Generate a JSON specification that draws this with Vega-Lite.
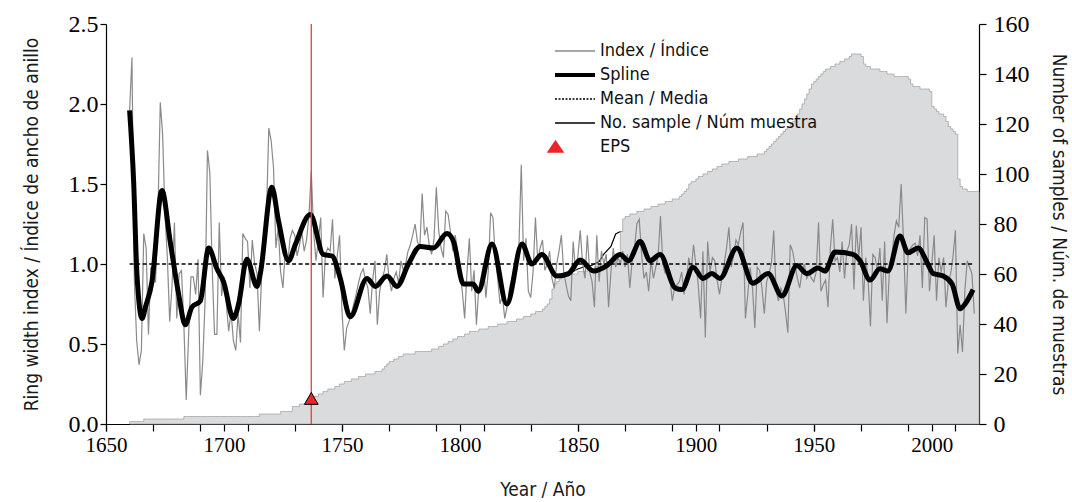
{
"$schema":"https://vega.github.io/schema/vega-lite/v6.json",
"width":873,"height":400,
"autosize":{"type":"none"},
"padding":{"left":106,"top":24,"right":93,"bottom":78},
"background":"white",
"config":{
 "view":{"stroke":null},
 "axis":{"domainColor":"#000","tickColor":"#000","labelColor":"#000","titleColor":"#1a1a1a","labelFontSize":24,"titleFontSize":19,"titleFontWeight":"normal","tickSize":6,"grid":false,"domainWidth":1.2,"tickWidth":1.2,"labelOverlap":false,"labelFlush":false,"labelBound":false}
},
"datasets":{
"annual":[
{"year":1660,"index":1.96,"n":1},{"year":1661,"index":2.29,"n":1},{"year":1662,"index":0.90,"n":1},{"year":1663,"index":0.52,"n":1},{"year":1664,"index":0.37,"n":1},{"year":1665,"index":0.46,"n":1},{"year":1666,"index":1.19,"n":2},{"year":1667,"index":1.10,"n":2},{"year":1668,"index":0.56,"n":2},{"year":1669,"index":0.98,"n":2},
{"year":1670,"index":0.89,"n":2},{"year":1671,"index":0.89,"n":2},{"year":1672,"index":1.30,"n":2},{"year":1673,"index":2.01,"n":2},{"year":1674,"index":1.81,"n":2},{"year":1675,"index":1.31,"n":2},{"year":1676,"index":1.04,"n":2},{"year":1677,"index":0.64,"n":2},{"year":1678,"index":0.87,"n":2},{"year":1679,"index":1.26,"n":2},
{"year":1680,"index":0.66,"n":2},{"year":1681,"index":0.94,"n":2},{"year":1682,"index":0.96,"n":2},{"year":1683,"index":0.62,"n":3},{"year":1684,"index":0.15,"n":3},{"year":1685,"index":0.55,"n":3},{"year":1686,"index":0.92,"n":3},{"year":1687,"index":0.92,"n":3},{"year":1688,"index":0.81,"n":3},{"year":1689,"index":1.03,"n":3},
{"year":1690,"index":0.18,"n":3},{"year":1691,"index":0.39,"n":3},{"year":1692,"index":0.77,"n":3},{"year":1693,"index":1.71,"n":3},{"year":1694,"index":1.57,"n":3},{"year":1695,"index":0.98,"n":3},{"year":1696,"index":0.56,"n":3},{"year":1697,"index":0.56,"n":3},{"year":1698,"index":1.26,"n":3},{"year":1699,"index":0.80,"n":3},
{"year":1700,"index":0.92,"n":3},{"year":1701,"index":0.75,"n":3},{"year":1702,"index":0.58,"n":3},{"year":1703,"index":0.70,"n":3},{"year":1704,"index":0.52,"n":3},{"year":1705,"index":0.46,"n":3},{"year":1706,"index":0.69,"n":3},{"year":1707,"index":0.51,"n":3},{"year":1708,"index":1.19,"n":3},{"year":1709,"index":1.16,"n":3},
{"year":1710,"index":1.14,"n":3},{"year":1711,"index":0.85,"n":3},{"year":1712,"index":1.15,"n":3},{"year":1713,"index":1.00,"n":3},{"year":1714,"index":0.94,"n":3},{"year":1715,"index":0.58,"n":4},{"year":1716,"index":0.94,"n":4},{"year":1717,"index":1.14,"n":4},{"year":1718,"index":1.30,"n":4},{"year":1719,"index":1.85,"n":4},
{"year":1720,"index":1.77,"n":4},{"year":1721,"index":1.60,"n":4},{"year":1722,"index":1.10,"n":4},{"year":1723,"index":1.23,"n":4},{"year":1724,"index":0.95,"n":5},{"year":1725,"index":0.85,"n":5},{"year":1726,"index":1.10,"n":5},{"year":1727,"index":1.00,"n":5},{"year":1728,"index":1.16,"n":5},{"year":1729,"index":1.21,"n":7},
{"year":1730,"index":1.18,"n":7},{"year":1731,"index":1.05,"n":7},{"year":1732,"index":1.12,"n":8},{"year":1733,"index":1.20,"n":8},{"year":1734,"index":1.08,"n":8},{"year":1735,"index":1.15,"n":9},{"year":1736,"index":1.30,"n":9},{"year":1737,"index":1.58,"n":10},{"year":1738,"index":1.20,"n":11},{"year":1739,"index":1.02,"n":11},
{"year":1740,"index":1.15,"n":12},{"year":1741,"index":1.29,"n":12},{"year":1742,"index":0.79,"n":13},{"year":1743,"index":1.06,"n":13},{"year":1744,"index":1.10,"n":14},{"year":1745,"index":1.08,"n":14},{"year":1746,"index":1.28,"n":14},{"year":1747,"index":0.91,"n":15},{"year":1748,"index":1.05,"n":15},{"year":1749,"index":1.18,"n":16},
{"year":1750,"index":0.71,"n":16},{"year":1751,"index":0.46,"n":17},{"year":1752,"index":0.60,"n":17},{"year":1753,"index":0.64,"n":17},{"year":1754,"index":0.69,"n":18},{"year":1755,"index":0.75,"n":18},{"year":1756,"index":0.81,"n":18},{"year":1757,"index":0.88,"n":19},{"year":1758,"index":0.94,"n":19},{"year":1759,"index":0.97,"n":19},
{"year":1760,"index":0.90,"n":20},{"year":1761,"index":0.85,"n":20},{"year":1762,"index":0.69,"n":20},{"year":1763,"index":0.90,"n":20},{"year":1764,"index":1.02,"n":21},{"year":1765,"index":0.62,"n":21},{"year":1766,"index":0.83,"n":21},{"year":1767,"index":0.90,"n":22},{"year":1768,"index":0.96,"n":23},{"year":1769,"index":1.06,"n":24},
{"year":1770,"index":0.90,"n":25},{"year":1771,"index":0.83,"n":25},{"year":1772,"index":0.91,"n":26},{"year":1773,"index":0.95,"n":26},{"year":1774,"index":0.88,"n":27},{"year":1775,"index":1.02,"n":27},{"year":1776,"index":0.96,"n":28},{"year":1777,"index":1.00,"n":28},{"year":1778,"index":1.08,"n":28},{"year":1779,"index":1.12,"n":28},
{"year":1780,"index":1.18,"n":28},{"year":1781,"index":1.25,"n":29},{"year":1782,"index":1.14,"n":29},{"year":1783,"index":1.10,"n":29},{"year":1784,"index":1.44,"n":29},{"year":1785,"index":1.18,"n":29},{"year":1786,"index":1.23,"n":29},{"year":1787,"index":1.12,"n":29},{"year":1788,"index":1.06,"n":30},{"year":1789,"index":1.15,"n":30},
{"year":1790,"index":1.48,"n":30},{"year":1791,"index":1.21,"n":31},{"year":1792,"index":1.10,"n":31},{"year":1793,"index":1.04,"n":32},{"year":1794,"index":1.33,"n":32},{"year":1795,"index":1.31,"n":33},{"year":1796,"index":1.20,"n":33},{"year":1797,"index":1.08,"n":34},{"year":1798,"index":1.18,"n":34},{"year":1799,"index":1.08,"n":35},
{"year":1800,"index":0.95,"n":35},{"year":1801,"index":0.83,"n":35},{"year":1802,"index":0.66,"n":36},{"year":1803,"index":0.95,"n":36},{"year":1804,"index":1.16,"n":37},{"year":1805,"index":0.83,"n":37},{"year":1806,"index":0.96,"n":37},{"year":1807,"index":0.62,"n":37},{"year":1808,"index":0.85,"n":38},{"year":1809,"index":0.92,"n":38},
{"year":1810,"index":1.00,"n":38},{"year":1811,"index":0.79,"n":38},{"year":1812,"index":0.95,"n":39},{"year":1813,"index":1.32,"n":39},{"year":1814,"index":1.29,"n":39},{"year":1815,"index":1.05,"n":39},{"year":1816,"index":0.91,"n":40},{"year":1817,"index":0.75,"n":40},{"year":1818,"index":0.80,"n":40},{"year":1819,"index":0.66,"n":40},
{"year":1820,"index":0.73,"n":41},{"year":1821,"index":0.85,"n":41},{"year":1822,"index":0.91,"n":41},{"year":1823,"index":0.95,"n":41},{"year":1824,"index":0.98,"n":42},{"year":1825,"index":1.10,"n":42},{"year":1826,"index":1.62,"n":42},{"year":1827,"index":1.02,"n":43},{"year":1828,"index":1.16,"n":43},{"year":1829,"index":0.83,"n":43},
{"year":1830,"index":0.79,"n":44},{"year":1831,"index":0.95,"n":44},{"year":1832,"index":1.29,"n":45},{"year":1833,"index":1.02,"n":45},{"year":1834,"index":1.10,"n":45},{"year":1835,"index":1.15,"n":46},{"year":1836,"index":0.96,"n":47},{"year":1837,"index":1.00,"n":48},{"year":1838,"index":1.08,"n":50},{"year":1839,"index":0.91,"n":54},
{"year":1840,"index":0.85,"n":56},{"year":1841,"index":1.00,"n":57},{"year":1842,"index":1.08,"n":58},{"year":1843,"index":1.18,"n":59},{"year":1844,"index":0.95,"n":59},{"year":1845,"index":0.87,"n":59},{"year":1846,"index":0.80,"n":60},{"year":1847,"index":0.77,"n":60},{"year":1848,"index":1.14,"n":60},{"year":1849,"index":0.96,"n":60},
{"year":1850,"index":1.05,"n":61},{"year":1851,"index":1.21,"n":61},{"year":1852,"index":1.00,"n":61},{"year":1853,"index":0.91,"n":61},{"year":1854,"index":1.18,"n":62},{"year":1855,"index":0.95,"n":62},{"year":1856,"index":0.89,"n":62},{"year":1857,"index":0.73,"n":63},{"year":1858,"index":1.18,"n":63},{"year":1859,"index":0.89,"n":64},
{"year":1860,"index":1.08,"n":64},{"year":1861,"index":1.00,"n":64},{"year":1862,"index":1.06,"n":65},{"year":1863,"index":0.73,"n":65},{"year":1864,"index":0.95,"n":65},{"year":1865,"index":1.10,"n":66},{"year":1866,"index":0.98,"n":66},{"year":1867,"index":1.04,"n":67},{"year":1868,"index":1.00,"n":77},{"year":1869,"index":1.08,"n":82},
{"year":1870,"index":0.98,"n":83},{"year":1871,"index":1.06,"n":83},{"year":1872,"index":0.85,"n":84},{"year":1873,"index":1.02,"n":84},{"year":1874,"index":1.10,"n":84},{"year":1875,"index":1.25,"n":85},{"year":1876,"index":1.28,"n":85},{"year":1877,"index":1.06,"n":85},{"year":1878,"index":0.91,"n":86},{"year":1879,"index":0.95,"n":86},
{"year":1880,"index":0.83,"n":86},{"year":1881,"index":1.02,"n":87},{"year":1882,"index":0.91,"n":87},{"year":1883,"index":0.98,"n":87},{"year":1884,"index":1.05,"n":88},{"year":1885,"index":1.30,"n":88},{"year":1886,"index":1.00,"n":88},{"year":1887,"index":0.94,"n":89},{"year":1888,"index":1.00,"n":89},{"year":1889,"index":0.91,"n":89},
{"year":1890,"index":0.77,"n":90},{"year":1891,"index":0.85,"n":90},{"year":1892,"index":0.87,"n":90},{"year":1893,"index":0.89,"n":91},{"year":1894,"index":0.95,"n":92},{"year":1895,"index":0.81,"n":93},{"year":1896,"index":0.90,"n":94},{"year":1897,"index":1.04,"n":96},{"year":1898,"index":0.95,"n":97},{"year":1899,"index":1.12,"n":97},
{"year":1900,"index":1.00,"n":98},{"year":1901,"index":0.87,"n":99},{"year":1902,"index":0.66,"n":99},{"year":1903,"index":1.08,"n":100},{"year":1904,"index":0.54,"n":100},{"year":1905,"index":1.14,"n":101},{"year":1906,"index":0.95,"n":101},{"year":1907,"index":1.04,"n":102},{"year":1908,"index":1.02,"n":102},{"year":1909,"index":0.90,"n":103},
{"year":1910,"index":0.81,"n":103},{"year":1911,"index":0.91,"n":104},{"year":1912,"index":1.00,"n":104},{"year":1913,"index":1.10,"n":104},{"year":1914,"index":1.23,"n":105},{"year":1915,"index":0.98,"n":105},{"year":1916,"index":1.05,"n":105},{"year":1917,"index":1.15,"n":105},{"year":1918,"index":1.12,"n":106},{"year":1919,"index":1.20,"n":106},
{"year":1920,"index":1.26,"n":106},{"year":1921,"index":0.66,"n":106},{"year":1922,"index":0.81,"n":107},{"year":1923,"index":0.98,"n":107},{"year":1924,"index":0.85,"n":107},{"year":1925,"index":0.60,"n":107},{"year":1926,"index":0.98,"n":108},{"year":1927,"index":0.96,"n":108},{"year":1928,"index":0.85,"n":108},{"year":1929,"index":0.69,"n":109},
{"year":1930,"index":0.89,"n":110},{"year":1931,"index":0.94,"n":111},{"year":1932,"index":1.00,"n":112},{"year":1933,"index":1.21,"n":113},{"year":1934,"index":0.83,"n":114},{"year":1935,"index":0.77,"n":115},{"year":1936,"index":0.85,"n":116},{"year":1937,"index":0.81,"n":117},{"year":1938,"index":0.70,"n":118},{"year":1939,"index":0.57,"n":119},
{"year":1940,"index":1.12,"n":120},{"year":1941,"index":1.08,"n":121},{"year":1942,"index":1.00,"n":122},{"year":1943,"index":0.91,"n":124},{"year":1944,"index":0.85,"n":126},{"year":1945,"index":0.95,"n":128},{"year":1946,"index":1.00,"n":130},{"year":1947,"index":0.91,"n":132},{"year":1948,"index":0.94,"n":134},{"year":1949,"index":0.91,"n":136},
{"year":1950,"index":0.89,"n":137},{"year":1951,"index":0.95,"n":138},{"year":1952,"index":1.26,"n":139},{"year":1953,"index":0.83,"n":140},{"year":1954,"index":0.87,"n":141},{"year":1955,"index":0.90,"n":142},{"year":1956,"index":0.73,"n":142},{"year":1957,"index":1.10,"n":143},{"year":1958,"index":1.28,"n":143},{"year":1959,"index":1.02,"n":144},
{"year":1960,"index":1.04,"n":144},{"year":1961,"index":0.95,"n":145},{"year":1962,"index":1.14,"n":145},{"year":1963,"index":0.91,"n":146},{"year":1964,"index":1.08,"n":146},{"year":1965,"index":1.12,"n":147},{"year":1966,"index":1.25,"n":148},{"year":1967,"index":0.84,"n":148},{"year":1968,"index":1.24,"n":148},{"year":1969,"index":1.04,"n":148},
{"year":1970,"index":1.23,"n":147},{"year":1971,"index":0.77,"n":144},{"year":1972,"index":1.04,"n":143},{"year":1973,"index":0.90,"n":143},{"year":1974,"index":0.61,"n":142},{"year":1975,"index":1.06,"n":142},{"year":1976,"index":1.04,"n":142},{"year":1977,"index":0.95,"n":142},{"year":1978,"index":1.10,"n":141},{"year":1979,"index":0.77,"n":141},
{"year":1980,"index":1.14,"n":141},{"year":1981,"index":0.63,"n":140},{"year":1982,"index":0.95,"n":140},{"year":1983,"index":1.04,"n":140},{"year":1984,"index":1.18,"n":139},{"year":1985,"index":1.27,"n":139},{"year":1986,"index":1.23,"n":139},{"year":1987,"index":1.50,"n":139},{"year":1988,"index":1.15,"n":139},{"year":1989,"index":0.69,"n":139},
{"year":1990,"index":1.08,"n":138},{"year":1991,"index":1.10,"n":136},{"year":1992,"index":1.12,"n":135},{"year":1993,"index":1.13,"n":135},{"year":1994,"index":1.05,"n":135},{"year":1995,"index":1.18,"n":134},{"year":1996,"index":0.85,"n":134},{"year":1997,"index":1.29,"n":134},{"year":1998,"index":1.28,"n":134},{"year":1999,"index":0.83,"n":133},
{"year":2000,"index":1.00,"n":127},{"year":2001,"index":1.18,"n":126},{"year":2002,"index":0.77,"n":125},{"year":2003,"index":1.04,"n":124},{"year":2004,"index":0.95,"n":124},{"year":2005,"index":1.04,"n":123},{"year":2006,"index":0.73,"n":121},{"year":2007,"index":0.89,"n":119},{"year":2008,"index":0.94,"n":118},{"year":2009,"index":1.05,"n":117},
{"year":2010,"index":1.21,"n":116},{"year":2011,"index":0.44,"n":98},{"year":2012,"index":0.62,"n":95},{"year":2013,"index":0.45,"n":94},{"year":2014,"index":0.83,"n":94},{"year":2015,"index":1.02,"n":93},{"year":2016,"index":0.98,"n":93},{"year":2017,"index":0.94,"n":93},{"year":2018,"index":0.69,"n":93},{"year":2019,"n":93},{"year":2020,"n":93}
],
"spline":[
{"year":1660,"s":1.96},{"year":1661.7,"s":1.52},{"year":1663.1,"s":0.94},{"year":1665.3,"s":0.66},{"year":1666.7,"s":0.73},{"year":1669.5,"s":0.89},{"year":1673.7,"s":1.46},{"year":1677.2,"s":1.14},{"year":1680.8,"s":0.81},{"year":1683.6,"s":0.62},
{"year":1686.4,"s":0.73},{"year":1690,"s":0.77},{"year":1693.5,"s":1.10},{"year":1697,"s":0.97},{"year":1699.8,"s":0.89},{"year":1704,"s":0.66},{"year":1706.2,"s":0.75},{"year":1709.7,"s":1.03},{"year":1714,"s":0.86},{"year":1715.4,"s":0.94},
{"year":1720.3,"s":1.48},{"year":1723.1,"s":1.27},{"year":1727.4,"s":1.02},{"year":1730.2,"s":1.12},{"year":1736.6,"s":1.31},{"year":1742.1,"s":1.06},{"year":1745.8,"s":1.05},{"year":1749.3,"s":0.91},{"year":1753.5,"s":0.67},{"year":1760.6,"s":0.91},
{"year":1764.1,"s":0.86},{"year":1769.1,"s":0.925},{"year":1773.3,"s":0.86},{"year":1778.2,"s":1.0},{"year":1783.2,"s":1.11},{"year":1788.8,"s":1.10},{"year":1794.5,"s":1.19},{"year":1797.3,"s":1.14},{"year":1801.5,"s":0.875},{"year":1805.6,"s":0.875},
{"year":1807.8,"s":0.83},{"year":1813.6,"s":1.125},{"year":1819.9,"s":0.75},{"year":1826.3,"s":1.125},{"year":1830.5,"s":1.0},{"year":1834.7,"s":1.06},{"year":1841.1,"s":0.925},{"year":1846,"s":0.94},{"year":1851,"s":1.025},{"year":1856.6,"s":0.956},
{"year":1862.3,"s":0.99},{"year":1867.9,"s":1.06},{"year":1871.4,"s":1.02},{"year":1876.4,"s":1.14},{"year":1880.6,"s":1.02},{"year":1884.8,"s":1.06},{"year":1891.2,"s":0.85},{"year":1894.1,"s":0.84},{"year":1898.8,"s":0.98},{"year":1903,"s":0.91},
{"year":1906.8,"s":0.94},{"year":1910.2,"s":0.91},{"year":1917.4,"s":1.10},{"year":1924.2,"s":0.88},{"year":1930.6,"s":0.94},{"year":1936.5,"s":0.80},{"year":1942.8,"s":0.99},{"year":1947.1,"s":0.94},{"year":1951.8,"s":0.975},{"year":1954.7,"s":0.956},
{"year":1959,"s":1.075},{"year":1966.6,"s":1.06},{"year":1969.6,"s":1.02},{"year":1973.8,"s":0.90},{"year":1978,"s":0.97},{"year":1981.4,"s":0.956},{"year":1986.5,"s":1.175},{"year":1989.9,"s":1.07},{"year":1994.2,"s":1.10},{"year":1998,"s":1.01},
{"year":2000.6,"s":0.94},{"year":2004.8,"s":0.925},{"year":2008.6,"s":0.875},{"year":2012,"s":0.72},{"year":2014.1,"s":0.75},{"year":2017.5,"s":0.84}
],
"sampleline":[
{"year":1843,"n":58},{"year":1846,"n":60},{"year":1850,"n":62},{"year":1853,"n":63},{"year":1856,"n":63.5},{"year":1859,"n":65},{"year":1861,"n":68},{"year":1864,"n":71},{"year":1866,"n":76},{"year":1868,"n":77},{"year":1869,"n":77},{"year":1869.3,"n":70},{"year":1872,"n":70}
],
"mean":[{"from":1660,"to":2018,"m":1.0}],
"eps":[{"year":1737,"v":0.16}]
},
"layer":[
 {
  "layer":[
   {"data":{"name":"sampleline"},"mark":{"type":"line","color":"#000","strokeWidth":1.2},
    "encoding":{"x":{"field":"year","type":"quantitative"},"y":{"field":"n","type":"quantitative"}}},
   {"data":{"name":"annual"},"mark":{"type":"area","fill":"#dadbdc","stroke":"#a6a6a6","strokeWidth":0.8,"interpolate":"step-after"},
    "encoding":{
     "x":{"field":"year","type":"quantitative","scale":{"domain":[1650,2020],"nice":false,"zero":false},
       "axis":{"orient":"bottom","title":null,"labels":false,"domain":false,"tickSize":7,"values":[1650,1660,1670,1680,1690,1700,1710,1720,1730,1740,1750,1760,1770,1780,1790,1800,1810,1820,1830,1840,1850,1860,1870,1880,1890,1900,1910,1920,1930,1940,1950,1960,1970,1980,1990,2000,2010,2020]}},
     "y":{"field":"n","type":"quantitative","scale":{"domain":[0,160],"nice":false},
       "axis":{"orient":"right","title":"Number of samples / Núm. de muestras","values":[0,20,40,60,80,100,120,140,160],"tickSize":7,"labelPadding":7,"titlePadding":19,"labelFont":"Liberation Serif","titleFont":"DejaVu Sans Condensed"}}
    }}
  ]
 },
 {
  "layer":[
   {"data":{"name":"annual"},"transform":[{"filter":"isValid(datum.index)"}],
    "mark":{"type":"line","strokeWidth":1.2},
    "encoding":{
     "x":{"field":"year","type":"quantitative",
       "axis":{"orient":"bottom","title":"Year / Año","values":[1650,1700,1750,1800,1850,1900,1950,2000],"format":"d","labelOverlap":false,"tickSize":7,"labelPadding":3,"titlePadding":25,"labelFontSize":21,"labelFont":"Liberation Serif","titleFont":"DejaVu Sans Condensed"}},
     "y":{"field":"index","type":"quantitative","scale":{"domain":[0,2.5],"nice":false},
       "axis":{"orient":"left","title":"Ring width index / Índice de ancho de anillo","values":[0,0.5,1,1.5,2,2.5],"format":".1f","tickSize":6,"labelPadding":2,"titlePadding":27,"labelFont":"Liberation Serif","titleFont":"DejaVu Sans Condensed"}},
     "color":{"datum":"Index / Índice","type":"nominal",
       "scale":{"domain":["Index / Índice","Spline","Mean / Media","No. sample / Núm muestra","EPS"],"range":["#8a8a8a","#000000","#000000","#000000","#e8262b"]},
       "legend":{"title":null,"orient":"none","legendX":460,"legendY":18,"padding":0,"symbolType":"stroke","symbolSize":1600,"symbolStrokeWidth":1.3,
         "labelFont":"DejaVu Sans Condensed","labelFontSize":18,"labelColor":"#111","labelOffset":16,"rowPadding":6,"labelLimit":400,
         "encode":{"symbols":{"update":{
           "shape":{"signal":"datum.value === 'EPS' ? 'M-1.35,0.25L-0.975,-0.3L-0.6,0.25Z' : 'stroke'"},
           "size":{"value":1600},
           "strokeWidth":{"signal":"datum.value === 'Spline' ? 4 : 1.3"},
           "stroke":{"signal":"datum.value === 'Index / Índice' ? '#8a8a8a' : '#000000'"},
           "fill":{"signal":"datum.value === 'EPS' ? '#e8262b' : 'transparent'"},
           "strokeDash":{"signal":"datum.value === 'Mean / Media' ? [2,1.5] : [1,0]"},
           "opacity":{"value":1}
         }}}}}
    }},
   {"data":{"name":"mean"},"mark":{"type":"rule","color":"#000","strokeWidth":1.5,"strokeDash":[4,2.5]},
    "encoding":{"x":{"field":"from","type":"quantitative"},"x2":{"field":"to"},"y":{"field":"m","type":"quantitative"}}},
   {"data":{"name":"spline"},"mark":{"type":"line","color":"#000","strokeWidth":5,"interpolate":"monotone","strokeJoin":"round"},
    "encoding":{"x":{"field":"year","type":"quantitative"},"y":{"field":"s","type":"quantitative"}}},
   {"data":{"name":"eps"},"mark":{"type":"rule","color":"#ee3b33","strokeWidth":1.3},
    "encoding":{"x":{"field":"year","type":"quantitative"}}},
   {"data":{"name":"eps"},"mark":{"type":"point","shape":"triangle-up","size":190,"filled":true,"fill":"#e8262b","stroke":"#000","strokeWidth":1,"opacity":1},
    "encoding":{"x":{"field":"year","type":"quantitative"},"y":{"field":"v","type":"quantitative"}}}
  ]
 }
],
"resolve":{"scale":{"y":"independent"},"axis":{"x":"independent"}}
}
